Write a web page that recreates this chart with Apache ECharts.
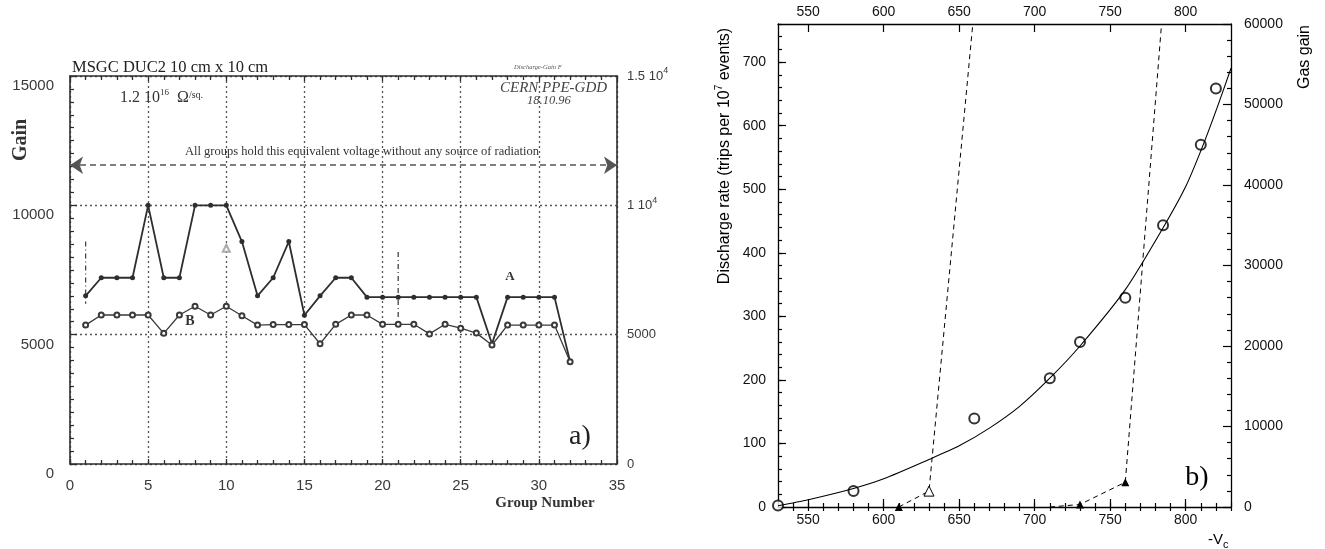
<!DOCTYPE html>
<html>
<head>
<meta charset="utf-8">
<title>MSGC gain per group and discharge rate vs cathode voltage</title>
<script src="https://cdn.jsdelivr.net/npm/echarts@6/dist/echarts.min.js"></script>
<style>
  html, body { margin: 0; padding: 0; background: #ffffff; }
  #chart { width: 1325px; height: 549px; }
</style>
</head>
<body>
<div id="chart"></div>
<script>
// ---------- Panel a): gain of each readout group ----------
const groupNumbers = [1, 2, 3, 4, 5, 6, 7, 8, 9, 10, 11, 12, 13, 14, 15, 16,
                      17, 18, 19, 20, 21, 22, 23, 24, 25, 26, 27, 28, 29, 30, 31, 32];
const gainA = [6500, 7200, 7200, 7200, 10000, 7200, 7200, 10000, 10000, 10000, 8600, 6500,
               7200, 8600, 5750, 6500, 7200, 7200, 6450, 6450, 6450, 6450, 6450, 6450,
               6450, 6450, 4650, 6450, 6450, 6450, 6450, 3950];
const gainB = [5370, 5760, 5760, 5760, 5760, 5050, 5760, 6100, 5760, 6100, 5730, 5370,
               5390, 5390, 5390, 4650, 5400, 5760, 5760, 5400, 5400, 5400, 5030, 5400,
               5250, 5060, 4600, 5370, 5370, 5370, 5370, 3950];
// vertical dash-dot spans (group, upper gain, lower gain)
const spanGroups = [1, 21];
const spanTop = [8600, 8200];
const spanBottom = [6200, 5570];
// isolated open triangle near group 10
const strayGroup = [10];
const strayGain = [8340];
// gain held by all groups without radiation
const equivalentGain = 11550;
const gainTicksA = [0, 5000, 10000, 15000];
const gainLabelsLeftA = ['0', '5000', '10000', '15000'];
const gainLabelsRightA = ['0', '5000', '{m|1 10}{s|4}', '{m|1.5 10}{s|4}'];

// ---------- Panel b): discharge rate and gas gain vs -Vc ----------
const voltTicks = [550, 600, 650, 700, 750, 800];
const rateTicks = [0, 100, 200, 300, 400, 500, 600, 700];
const gainPointV = [530, 580, 660, 710, 730, 760, 785, 810, 820];
const gainPoints = [200, 2000, 11000, 16000, 20500, 26000, 35000, 45000, 52000];
const gainFitV = [530, 550, 580, 600, 630, 650, 670, 690, 710, 730, 760, 786, 800, 811, 821, 830];
const gainFit = [150, 900, 2300, 3500, 5900, 7600, 9800, 12500, 16000, 20000, 27000,
                 35000, 39800, 44700, 49700, 54500];
const rateOpenV = [610, 630, 659];
const rateOpen = [0, 25, 760];
const rateFilledV = [710, 730, 760, 784];
const rateFilled = [0, 4, 39, 760];

const SERIF = "'Liberation Serif', 'DejaVu Serif', serif";
const SANS = "'Liberation Sans', 'DejaVu Sans', sans-serif";
const INK_A = '#2e2e2e';
const INK_B = '#000000';

function pairs(xs, ys) { return xs.map((x, i) => [x, ys[i]]); }
function stepValues(lo, hi, step) {
  const out = [];
  for (let v = lo; v <= hi + 1e-9; v += step) out.push(v);
  return out;
}

const chart = echarts.init(document.getElementById('chart'), null, { renderer: 'canvas' });

const axisLineA = { show: true, onZero: false, lineStyle: { color: INK_A, width: 1.6 } };
const axisLineB = { show: true, onZero: false, lineStyle: { color: INK_B, width: 1.3 } };
const dotted = { show: true, lineStyle: { color: '#555', width: 1.3, type: [2, 3] } };

const vMinor = stepValues(540, 830, 10);
const rateMinor = stepValues(0, 760, 20);

function voltAxis(position, major) {
  return {
    gridIndex: 1, type: 'value', position: position, min: 530, max: 830,
    axisLine: major ? axisLineB : { show: false },
    splitLine: { show: false },
    axisTick: { show: true, inside: true, length: major ? 8 : 4,
                customValues: major ? voltTicks : vMinor,
                lineStyle: { color: INK_B, width: 1.2 } },
    axisLabel: major ? { show: true, customValues: voltTicks, margin: position === 'top' ? 5 : 6,
                         fontFamily: SANS, fontSize: 14, color: '#111' } : { show: false }
  };
}

function rateAxis(major) {
  return {
    gridIndex: 1, type: 'value', position: 'left', min: 0, max: 760,
    axisLine: major ? axisLineB : { show: false },
    splitLine: { show: false },
    axisTick: { show: true, inside: true, length: major ? 8 : 4,
                customValues: major ? rateTicks : rateMinor,
                lineStyle: { color: INK_B, width: 1.2 } },
    axisLabel: major ? { show: true, customValues: rateTicks, margin: 12,
                         fontFamily: SANS, fontSize: 14, color: '#111' } : { show: false }
  };
}

// open / filled / no triangle marker for each rate point
function rateData(xs, ys, marks) {
  return xs.map((x, i) => {
    const m = marks[i];
    const item = { value: [x, ys[i]] };
    if (m === 'none') { item.symbol = 'none'; }
    else if (m === 'open') {
      item.symbol = 'triangle'; item.symbolSize = 10;
      item.itemStyle = { color: '#ffffff', borderColor: INK_B, borderWidth: 1 };
    } else {
      item.symbol = 'triangle'; item.symbolSize = 8;
      item.itemStyle = { color: INK_B, borderColor: INK_B, borderWidth: 0 };
    }
    return item;
  });
}

const spanSeries = spanGroups.map((g, i) => ({
  type: 'line', xAxisIndex: 0, yAxisIndex: 0, symbol: 'none', silent: true,
  data: [[g, spanTop[i]], [g, spanBottom[i]]],
  lineStyle: { color: '#444', width: 1.3, type: [5, 3, 1, 3] }
}));

function txt(x, y, text, font, extra) {
  return Object.assign({
    type: 'text', x: x, y: y, z: 100,
    style: Object.assign({ text: text, fill: INK_A, align: 'left', verticalAlign: 'middle' }, font)
  }, extra || {});
}

const option = {
  animation: false,
  backgroundColor: '#ffffff',
  grid: [
    { left: 70, top: 76, width: 547, height: 388, containLabel: false, outerBoundsMode: 'none' },
    { left: 778, top: 24, width: 453, height: 483, containLabel: false, outerBoundsMode: 'none' }
  ],
  xAxis: [
    { gridIndex: 0, type: 'value', position: 'bottom', min: 0, max: 35, interval: 5,
      axisLine: axisLineA,
      axisTick: { show: true, inside: true, length: 5, lineStyle: { color: INK_A, width: 1.3 } },
      minorTick: { show: true, splitNumber: 5, length: 4, lineStyle: { color: INK_A, width: 1.3 } },
      axisLabel: { margin: 14, fontFamily: SANS, fontSize: 15, color: '#3a3a3a' },
      splitLine: dotted },
    { gridIndex: 0, type: 'value', position: 'top', min: 0, max: 35, interval: 5,
      axisLine: axisLineA,
      axisTick: { show: true, inside: true, length: 5, lineStyle: { color: INK_A, width: 1.3 } },
      minorTick: { show: true, splitNumber: 5, length: 4, lineStyle: { color: INK_A, width: 1.3 } },
      axisLabel: { show: false }, splitLine: { show: false } },
    voltAxis('bottom', false), voltAxis('bottom', true),
    voltAxis('top', false), voltAxis('top', true)
  ],
  yAxis: [
    { gridIndex: 0, type: 'value', position: 'left', min: 0, max: 15000, interval: 5000,
      axisLine: axisLineA,
      axisTick: { show: true, inside: true, length: 7, lineStyle: { color: INK_A, width: 1.3 } },
      minorTick: { show: true, splitNumber: 10, length: 4, lineStyle: { color: INK_A, width: 1.2 } },
      axisLabel: { margin: 16, fontFamily: SANS, fontSize: 15, color: '#3a3a3a',
                   verticalAlign: 'top', lineHeight: 20,
                   formatter: v => gainLabelsLeftA[gainTicksA.indexOf(v)] },
      splitLine: dotted },
    { gridIndex: 0, type: 'value', position: 'right', min: 0, max: 15000, interval: 5000,
      axisLine: axisLineA, axisTick: { show: false },
      axisLabel: { margin: 10, fontFamily: SANS, fontSize: 13, color: '#3a3a3a',
                   formatter: v => gainLabelsRightA[gainTicksA.indexOf(v)],
                   rich: {
                     m: { fontFamily: SANS, fontSize: 13, color: '#3a3a3a' },
                     s: { fontFamily: SANS, fontSize: 9, color: '#3a3a3a', padding: [0, 0, 10, 0] }
                   } },
      splitLine: { show: false } },
    rateAxis(false), rateAxis(true),
    { gridIndex: 1, type: 'value', position: 'right', min: 0, max: 60000, interval: 10000,
      axisLine: axisLineB,
      axisTick: { show: true, inside: true, length: 8, lineStyle: { color: INK_B, width: 1.2 } },
      minorTick: { show: true, splitNumber: 5, length: 4, lineStyle: { color: INK_B, width: 1.2 } },
      axisLabel: { margin: 13, fontFamily: SANS, fontSize: 14, color: '#111',
                   formatter: v => String(v) },
      splitLine: { show: false } }
  ],
  series: [
    { type: 'line', name: 'A', xAxisIndex: 0, yAxisIndex: 0,
      data: pairs(groupNumbers, gainA),
      symbol: 'circle', symbolSize: 5,
      itemStyle: { color: INK_A },
      lineStyle: { color: INK_A, width: 1.8 },
      markLine: {
        silent: true, symbol: ['arrow', 'arrow'], symbolSize: 13,
        label: { show: false },
        lineStyle: { color: '#555', width: 1.6, type: [6, 4] },
        data: [[{ coord: [0, equivalentGain] }, { coord: [35, equivalentGain] }]]
      } },
    { type: 'line', name: 'B', xAxisIndex: 0, yAxisIndex: 0,
      data: pairs(groupNumbers, gainB),
      symbol: 'emptyCircle', symbolSize: 5,
      itemStyle: { color: '#3a3a3a', borderWidth: 1 },
      lineStyle: { color: '#3a3a3a', width: 1.3 } },
    ...spanSeries,
    { type: 'scatter', xAxisIndex: 0, yAxisIndex: 0, data: pairs(strayGroup, strayGain),
      symbol: 'emptyTriangle', symbolSize: 7,
      itemStyle: { color: '#999', borderWidth: 1 } },

    { type: 'line', name: 'gain fit', xAxisIndex: 3, yAxisIndex: 4,
      data: pairs(gainFitV, gainFit), smooth: 0.25,
      symbol: 'none', lineStyle: { color: INK_B, width: 1.1 } },
    { type: 'scatter', name: 'gas gain', xAxisIndex: 3, yAxisIndex: 4,
      data: pairs(gainPointV, gainPoints), symbol: 'emptyCircle', symbolSize: 10,
      itemStyle: { color: INK_B, borderWidth: 1 } },
    { type: 'line', name: 'rate open', xAxisIndex: 3, yAxisIndex: 3,
      data: rateData(rateOpenV, rateOpen, ['filled', 'open', 'none']),
      lineStyle: { color: INK_B, width: 1, type: [5, 4] } },
    { type: 'line', name: 'rate filled', xAxisIndex: 3, yAxisIndex: 3,
      data: rateData(rateFilledV, rateFilled, ['none', 'filled', 'filled', 'none']),
      lineStyle: { color: INK_B, width: 1, type: [5, 4] } }
  ],
  graphic: [
    txt(72, 68, 'MSGC DUC2 10 cm x 10 cm', { font: '16.5px ' + SERIF, fill: '#222' }),
    txt(120, 98, '{n|1.2 10}{s|16}{n|  Ω}{t|/sq.}', {
      rich: {
        n: { fontFamily: SERIF, fontSize: 16, fill: '#333', color: '#333' },
        s: { fontFamily: SERIF, fontSize: 9, fill: '#333', color: '#333', padding: [0, 0, 11, 0] },
        t: { fontFamily: SERIF, fontSize: 10, fill: '#333', color: '#333', padding: [0, 0, 6, 0] }
      } }),
    txt(514, 67, 'Discharge-Gain F', { font: 'italic 6.5px ' + SERIF, fill: '#555' }),
    txt(500, 88, 'CERN PPE-GDD', { font: 'italic 15px ' + SERIF, fill: '#444' }),
    txt(527, 101, '18.10.96', { font: 'italic 12.5px ' + SERIF, fill: '#444' }),
    txt(362, 152, 'All groups hold this equivalent voltage without any source of radiation',
        { font: '12.5px ' + SERIF, fill: '#333', align: 'center' }),
    txt(21, 140, 'Gain', { font: 'bold 20px ' + SERIF, fill: '#333', align: 'center' },
        { rotation: Math.PI / 2 }),
    txt(545, 503, 'Group Number', { font: 'bold 15px ' + SERIF, fill: '#333', align: 'center' }),
    txt(510, 277, 'A', { font: 'bold 13px ' + SERIF, fill: '#333', align: 'center' }),
    txt(190, 321, 'B', { font: 'bold 14px ' + SERIF, fill: '#333', align: 'center' }),
    txt(580, 437, 'a)', { font: '28px ' + SERIF, fill: '#222', align: 'center' }),

    txt(725, 156, '{n|Discharge rate (trips per 10}{s|7}{n| events)}', {
      align: 'center',
      rich: {
        n: { fontFamily: SANS, fontSize: 16, fill: '#000', color: '#000' },
        s: { fontFamily: SANS, fontSize: 10, fill: '#000', color: '#000', padding: [0, 0, 11, 0] }
      } }, { rotation: Math.PI / 2 }),
    txt(1305, 57, 'Gas gain', { font: '16px ' + SANS, fill: '#000', align: 'center' },
        { rotation: Math.PI / 2 }),
    txt(1208, 540, '{n|-V}{c|c}', {
      rich: {
        n: { fontFamily: SANS, fontSize: 15, fill: '#000', color: '#000' },
        c: { fontFamily: SANS, fontSize: 11, fill: '#000', color: '#000', padding: [9, 0, 0, 0] }
      } }),
    txt(1197, 478, 'b)', { font: '28px ' + SERIF, fill: '#000', align: 'center' })
  ]
};

chart.setOption(option);
</script>
</body>
</html>
